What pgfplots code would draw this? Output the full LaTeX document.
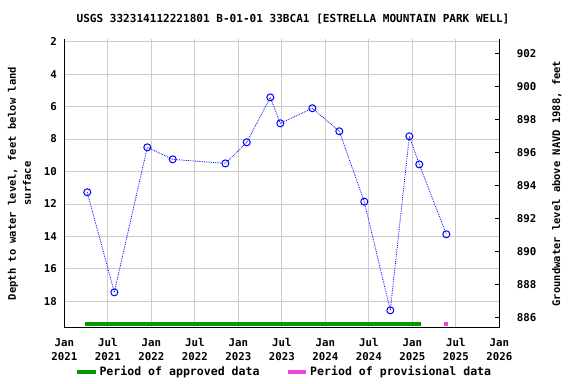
\documentclass[border=0pt]{standalone}
\usepackage{fontspec}
\setmainfont{DejaVu Sans Mono}
\setmonofont{DejaVu Sans Mono}
\usepackage{pgfplots}
\pgfplotsset{compat=1.18}
\definecolor{gridgray}{RGB}{204,204,204}
\definecolor{appgreen}{RGB}{0,153,0}
\definecolor{provpink}{RGB}{238,68,221}
\begin{document}
\begin{tikzpicture}[font=\fontsize{10.5}{14}\selectfont\bfseries]
\useasboundingbox (0,0) rectangle (576bp,384bp);
\begin{axis}[
  at={(64.3bp,56.3bp)}, anchor=south west,
  scale only axis, width=435bp, height=288.4bp,
  xmin=2021, xmax=2026,
  ymin=1.85, ymax=19.63, y dir=reverse,
  /pgf/number format/assume math mode=true,
  ticklabel style={font=\fontsize{10.8}{14}\selectfont\bfseries},
  xtick={2021,2021.5,2022,2022.5,2023,2023.5,2024,2024.5,2025,2025.5,2026},
  xticklabels={Jan\\2021,Jul\\2021,Jan\\2022,Jul\\2022,Jan\\2023,Jul\\2023,Jan\\2024,Jul\\2024,Jan\\2025,Jul\\2025,Jan\\2026},
  xticklabel style={align=center, yshift=-7bp},
  yticklabel style={xshift=-4bp},
  ytick={2,4,...,18},
  grid=major, major grid style={gridgray, line width=0.8pt},
  tick style={draw=none},
  axis line style={black, line width=1pt},
  axis y line*=left, axis x line*=bottom,
  ylabel={Depth to water level, feet below land\\surface},
  ylabel style={align=center, font=\fontsize{10.5}{15}\selectfont\bfseries, at={(-0.103,0.5)}, anchor=center},
  legend style={at={(0.505,-0.153)}, anchor=center, draw=none, legend columns=2,
    font=\fontsize{11.6}{12}\selectfont\bfseries, /tikz/every even column/.append style={column sep=24bp},
    legend image post style={xscale=1.1}},
  legend cell align=left,
  clip=false,
]
\addlegendimage{appgreen, line width=4bp}
\addlegendentry{Period of approved data}
\addlegendimage{provpink, line width=4bp}
\addlegendentry{Period of provisional data}
\addplot[blue, densely dotted, line width=0.8pt, mark=o, mark size=3.5bp, mark options={solid, line width=1pt}, forget plot] coordinates {
(2021.264,11.28) (2021.575,17.45) (2021.954,8.51) (2022.246,9.25) (2022.851,9.50)
(2023.097,8.20) (2023.368,5.43) (2023.483,7.03) (2023.851,6.10) (2024.161,7.52)
(2024.448,11.86) (2024.747,18.56) (2024.966,7.83) (2025.080,9.56) (2025.391,13.87)
};
\addplot[appgreen, line width=4bp, forget plot] coordinates {(2021.238,19.38) (2025.100,19.38)};
\addplot[provpink, line width=4bp, forget plot] coordinates {(2025.366,19.38) (2025.412,19.38)};
\end{axis}
\begin{axis}[
  at={(64.3bp,56.3bp)}, anchor=south west,
  scale only axis, width=435bp, height=288.4bp,
  xmin=2021, xmax=2026, hide x axis,
  ymin=885.37, ymax=902.85,
  axis y line*=right,
  ytick={886,888,...,902},
  /pgf/number format/assume math mode=true,
  /pgf/number format/1000 sep={},
  ticklabel style={font=\fontsize{10.8}{14}\selectfont\bfseries},
  tick align=inside, major tick length=4bp, tick style={black, line width=0.8pt},
  axis line style={black, line width=1pt},
  yticklabel style={xshift=14bp},
  ylabel={Groundwater level above NAVD 1988, feet},
  ylabel style={font=\fontsize{10.5}{14}\selectfont\bfseries, at={(1.1326,0.5)}, anchor=center},
]
\addplot[draw=none] coordinates {(2021,890)};
\end{axis}
\node[font=\fontsize{11.1}{14}\selectfont\bfseries] at (293bp,365bp) {USGS 332314112221801 B-01-01 33BCA1 [ESTRELLA MOUNTAIN PARK WELL]};
\end{tikzpicture}
\end{document}
